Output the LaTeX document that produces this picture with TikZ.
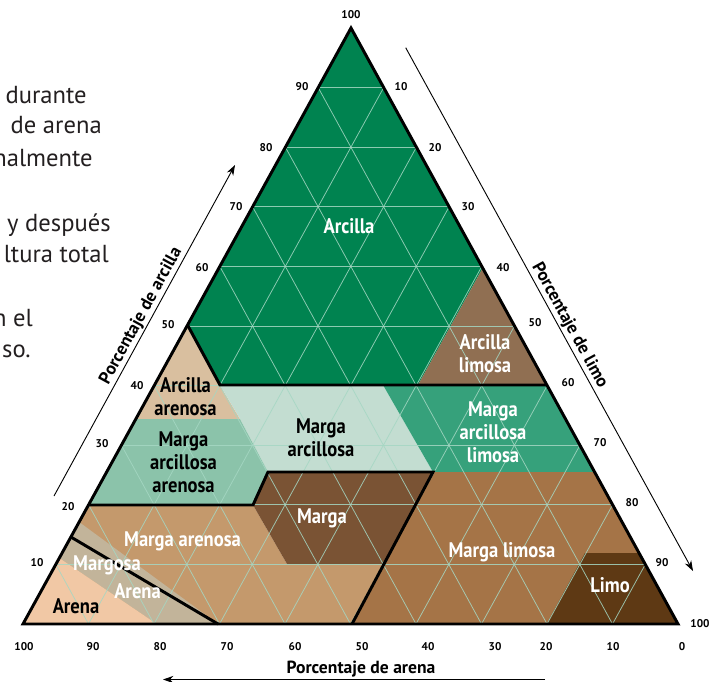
\documentclass[tikz,border=0pt]{standalone}
\usepackage{fontspec}
\setmainfont{PT Sans}
\newfontfamily\condfont[FakeStretch=0.88]{PT Sans}
\usetikzlibrary{arrows.meta}

\definecolor{arcillaC}{RGB}{0,131,80}
\definecolor{arclimC}{RGB}{144,111,82}
\definecolor{arcareC}{RGB}{217,191,159}
\definecolor{marcC}{RGB}{195,221,209}
\definecolor{marcareC}{RGB}{139,195,170}
\definecolor{marclimC}{RGB}{54,161,123}
\definecolor{margaC}{RGB}{122,83,52}
\definecolor{mareC}{RGB}{196,153,108}
\definecolor{margosaC}{RGB}{194,180,154}
\definecolor{arenaC}{RGB}{241,200,165}
\definecolor{mlimC}{RGB}{165,116,71}
\definecolor{limoC}{RGB}{94,57,20}
\definecolor{gridC}{RGB}{165,215,195}
\definecolor{textC}{RGB}{35,31,32}

\begin{document}
\begin{tikzpicture}[
        x = 0.25mm, y = -0.25mm,
        border/.style = {line width=2.1pt},
        gridline/.style = {gridC, line width=0.55pt, opacity=0.85},
        num/.style = {font=\bfseries\fontsize{8}{9}\selectfont, inner sep=0pt},
        cls/.style = {font=\condfont\bfseries\fontsize{15}{16.5}\selectfont, align=center, inner sep=0pt},
        axtitle/.style = {font=\bfseries\fontsize{12.5}{14}\selectfont, inner sep=1pt},
        axisline/.style = {line width=0.65pt, -{Stealth[length=2.6mm, width=1.8mm]}},
        body/.style = {font=\fontsize{17.5}{21}\selectfont, textC, anchor=base east, inner sep=0pt}
        ]
        \useasboundingbox (0,0) rectangle (714,681);
%
        \node[body] (t1) at (87,103) {durante};
        \node[body] (t2) at (102,133) {de arena};
        \node[body] (t3) at (93,166) {nalmente};
        \node[body] (t4) at (111,231) {y después};
        \node[body] (t5) at (109,262) {ltura total};
        \node[body] (t6) at (33,326) {n el};
        \node[body] (t7) at (31,357) {so.};
%
        \coordinate (T) at (351,28);
        \coordinate (L) at (23,624);
        \coordinate (R) at (678,624);
%
        \coordinate (p1) at (187.5,325);
        \coordinate (p2) at (220,385);
        \coordinate (p3) at (418,385);
        \coordinate (p4) at (482.7,268);
        \coordinate (p5) at (546.9,385);
        \coordinate (p6) at (135.8,419);
        \coordinate (p7) at (240,419);
        \coordinate (p8) at (383,385);
        \coordinate (p9) at (433,472);
        \coordinate (p10) at (268,472);
        \coordinate (p11) at (594.6,472);
        \coordinate (p12) at (253,505);
        \coordinate (p13) at (88.5,505);
        \coordinate (p14) at (287,564);
        \coordinate (p15) at (384,564);
        \coordinate (p16) at (352,624);
        \coordinate (p17) at (218,624);
        \coordinate (p18) at (79.1,522);
        \coordinate (p19) at (70.9,537);
        \coordinate (p20) at (59.3,558);
        \coordinate (p21) at (156.7,624);
        \coordinate (p22) at (585,553);
        \coordinate (p23) at (639,553);
        \coordinate (p24) at (546.7,624);
%
        \fill[arcillaC] (T) -- (p1) -- (p2) -- (p3) -- (p4) -- cycle;
        \fill[arclimC] (p4) -- (p3) -- (p5) -- cycle;
        \fill[arcareC] (p1) -- (p2) -- (p7) -- (p6) -- cycle;
        \fill[marcC] (p2) -- (p8) -- (p9) -- (p10) -- (p7) -- cycle;
        \fill[marclimC] (p8) -- (p5) -- (p11) -- (p9) -- cycle;
        \fill[marcareC] (p6) -- (p7) -- (p10) -- (p12) -- (p13) -- cycle;
        \fill[mareC] (p13) -- (p12) -- (p14) -- (p15) -- (p16) -- (L) -- cycle;
        \fill[margaC] (p10) -- (p9) -- (p15) -- (p14) -- (p12) -- cycle;
        \fill[mlimC] (p9) -- (p11) -- (R) -- (p16) -- cycle;
        \fill[limoC] (p22) -- (p23) -- (R) -- (p24) -- cycle;
        \fill[margosaC] (p18) -- (p17) -- (p21) -- (p20) -- cycle;
        \fill[arenaC] (p20) -- (p21) -- (L) -- cycle;
%
        \foreach \k in {1,...,9}{
            \pgfmathsetmacro\a{\k/10}
            \pgfmathsetmacro\b{1-\k/10}
            \draw[gridline] (barycentric cs:L=\b,R=0,T=\a) -- (barycentric cs:L=0,R=\b,T=\a);
            \draw[gridline] (barycentric cs:L=\a,R=\b,T=0) -- (barycentric cs:L=\a,R=0,T=\b);
            \draw[gridline] (barycentric cs:L=\b,R=\a,T=0) -- (barycentric cs:L=0,R=\a,T=\b);
        }
%
        \draw[border] (T) -- (L) -- (R) -- cycle;
        \draw[border] (p1) -- (p2) -- (p5);
        \draw[border] (p13) -- (p12) -- (p10) -- (p9) -- (p16);
        \draw[border] (p19) -- (p17);
%
        \node[num] (top) at (351,15) {100};
        \foreach \t/\x/\y in {90/302/87, 80/266/148, 70/236/207, 60/202/268, 50/168/325,
                40/137/386, 30/102/444, 20/68/507, 10/37/563}
            \node[num] (clay\t) at (\x,\y) {\t};
        \foreach \t/\x/\y in {10/401/87, 20/435/148, 30/468/207, 40/503/268, 50/535/323,
                60/568/383, 70/600/443, 80/632/503, 90/662/563, 100/700/624}
            \node[num] (silt\t) at (\x,\y) {\t};
        \foreach \t/\x in {100/24, 90/93, 80/160, 70/227, 60/295, 50/362, 40/428,
                30/495, 20/546, 10/613, 0/682}
            \node[num] (sand\t) at (\x,647) {\t};
%
        \node[cls, white, anchor=base] (lArcilla) at (349,233) {Arcilla};
        \node[cls, white] (lArcLim) at (485,354) {Arcilla\\limosa};
        \node[cls] (lArcAre) at (185.5,397) {Arcilla\\arenosa};
        \node[cls] (lMarArc) at (321,438) {Marga\\arcillosa};
        \node[cls, white] (lMarArcLim) at (493,432) {Marga\\arcillosa\\limosa};
        \node[cls] (lMarArcAre) at (183.5,462) {Marga\\arcillosa\\arenosa};
        \node[cls, white, anchor=base] (lMarga) at (322,523) {Marga};
        \node[cls, white, anchor=base] (lMarAre) at (182.5,546) {Marga arenosa};
        \node[cls, white, anchor=base] (lMargosa) at (107,570) {Margosa};
        \node[cls, white, anchor=base] (lArenaB) at (137.5,598) {Arena};
        \node[cls, anchor=base] (lArena) at (76,613) {Arena};
        \node[cls, white, anchor=base] (lMarLim) at (502,557) {Marga limosa};
        \node[cls, white, anchor=base] (lLimo) at (610,592) {Limo};
%
        \coordinate (clayA) at (54,496);
        \coordinate (clayB) at (235,165);
        \coordinate (siltA) at (405.7,47.7);
        \coordinate (siltB) at (693,571);
        \coordinate (sandA) at (545,679.5);
        \coordinate (sandB) at (163,679.5);
        \draw[axisline] (clayA) -- node[axtitle, sloped, above, pos=0.53] (clayT) {Porcentaje de arcilla} (clayB);
        \draw[axisline] (siltA) -- node[axtitle, sloped, above, pos=0.54] (siltT) {Porcentaje de limo} (siltB);
        \draw[axisline] (sandA) -- (sandB);
        \node[axtitle, anchor=base] (sandT) at (361,673) {Porcentaje de arena};
    \end{tikzpicture}
\end{document}
